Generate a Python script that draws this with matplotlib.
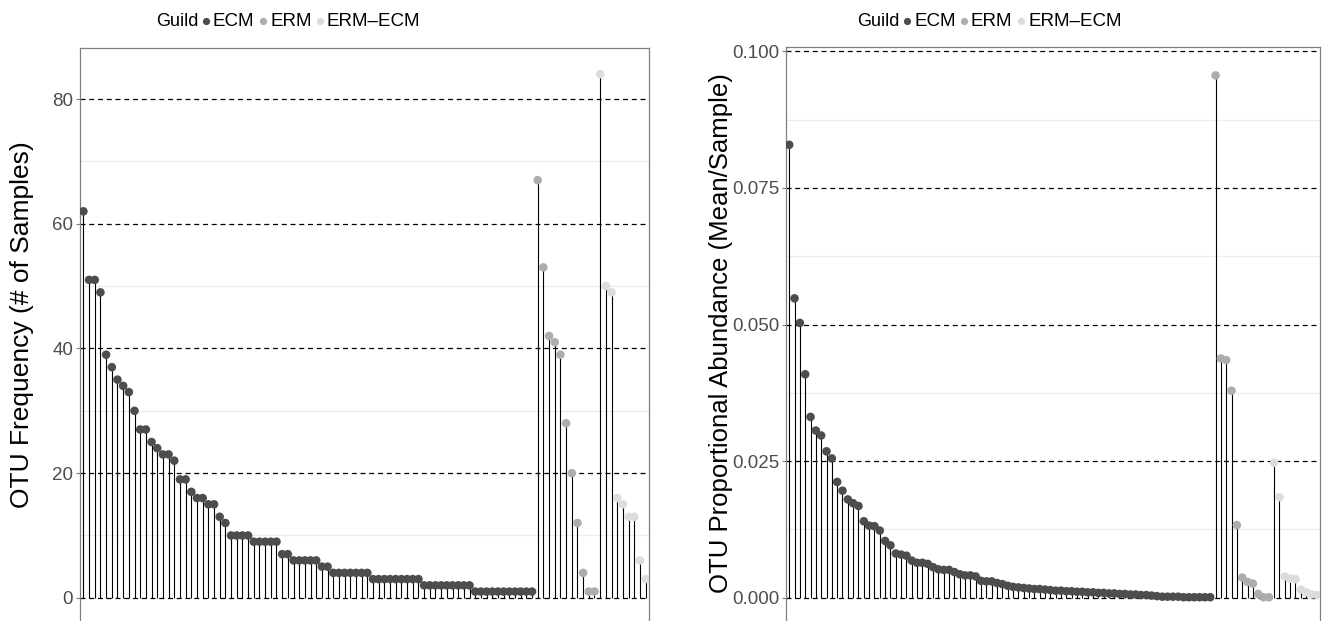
import matplotlib
matplotlib.use("Agg")
import matplotlib.pyplot as plt
from matplotlib.lines import Line2D
import numpy as np

plt.rcParams['font.family'] = ['Liberation Sans', 'DejaVu Sans']

# ---------------- data ----------------
guilds = ["ECM", "ERM", "ERM\u2013ECM"]
guild_colors = {"ECM": "#4D4D4D", "ERM": "#ADADAD", "ERM\u2013ECM": "#DCDCDC"}

# Left panel: OTU frequency (# of samples)
freq_ecm = [62, 51, 51, 49, 39, 37, 35, 34, 33, 30,
            27, 27, 25, 24, 23, 23, 22, 19, 19, 17,
            16, 16, 15, 15, 13, 12, 10, 10, 10, 10,
            9, 9, 9, 9, 9, 7, 7, 6, 6, 6,
            6, 6, 5, 5, 4, 4, 4, 4, 4, 4,
            4, 3, 3, 3, 3, 3, 3, 3, 3, 3,
            2, 2, 2, 2, 2, 2, 2, 2, 2, 1,
            1, 1, 1, 1, 1, 1, 1, 1, 1, 1]
freq_erm = [67, 53, 42, 41, 39, 28, 20, 12, 4, 1, 1]
freq_erm_ecm = [84, 50, 49, 16, 15, 13, 13, 6, 3]

# Right panel: OTU proportional abundance (mean/sample)
abund_ecm = [0.0829, 0.0548, 0.0503, 0.0409, 0.0331, 0.0306, 0.0297, 0.0268, 0.0255, 0.0212,
             0.0196, 0.0180, 0.0173, 0.0168, 0.0140, 0.0132, 0.0131, 0.0123, 0.0104, 0.0096,
             0.0081, 0.0079, 0.0077, 0.0068, 0.0064, 0.0064, 0.0062, 0.0056, 0.0052, 0.0051,
             0.0051, 0.0047, 0.0043, 0.0041, 0.0041, 0.0039, 0.0031, 0.0030, 0.0030, 0.0027,
             0.0025, 0.0022, 0.0020, 0.0019, 0.0018, 0.0017, 0.0016, 0.0016, 0.0015, 0.0014,
             0.0013, 0.0013, 0.0012, 0.0012, 0.0011, 0.0011, 0.0010, 0.0010, 0.0009, 0.0009,
             0.0008, 0.0008, 0.0007, 0.0007, 0.0006, 0.0006, 0.0005, 0.0005, 0.0004, 0.0003,
             0.0002, 0.0002, 0.0002, 0.0002, 0.0001, 0.0001, 0.0001, 0.0001, 0.0001, 0.0001]
abund_erm = [0.0956, 0.0438, 0.0435, 0.0379, 0.0133, 0.0037, 0.0029, 0.0026, 0.0007, 0.0001, 0.0001]
abund_erm_ecm = [0.0247, 0.0184, 0.0039, 0.0035, 0.0034, 0.0015, 0.0010, 0.0006, 0.0005]

freq_major = [0, 20, 40, 60, 80]
freq_minor = [10, 30, 50, 70]
abund_major = [0.000, 0.025, 0.050, 0.075, 0.100]
abund_minor = [0.0125, 0.0375, 0.0625, 0.0875]
freq_ticklabels = ["0", "20", "40", "60", "80"]
abund_ticklabels = ["0.000", "0.025", "0.050", "0.075", "0.100"]

# ---------------- figure ----------------
W, H = 1323, 621
fig = plt.figure(figsize=(W / 100, H / 100), dpi=100)


def px_axes(x0, x1, y0, y1):
    return fig.add_axes([x0 / W, 1 - y1 / H, (x1 - x0) / W, (y1 - y0) / H])


def draw_panel(ax, series, major, minor, ticklabels, ylim):
    vals = []
    cols = []
    for g, s in zip(guilds, series):
        vals += list(s)
        cols += [guild_colors[g]] * len(s)
    x = np.arange(len(vals))
    for m in minor:
        ax.axhline(m, color="#EBEBEB", lw=0.8, zorder=0)
    for m in major:
        ax.axhline(m, color="black", lw=0.9, ls=(0, (4, 3)), zorder=1)
    ax.vlines(x, 0, vals, color="black", lw=0.8, zorder=2)
    ax.scatter(x, vals, s=38, c=cols, edgecolors="none", zorder=3)
    ax.set_xlim(-0.6, len(vals) - 1 + 0.6)
    ax.set_ylim(*ylim)
    ax.set_yticks(major)
    ax.set_yticklabels(ticklabels)
    ax.set_xticks([])
    ax.tick_params(axis="y", length=3, width=0.8, color="#7F7F7F",
                   labelcolor="#4D4D4D", labelsize=13.5, pad=2)
    for sp in ax.spines.values():
        sp.set_color("#7F7F7F")
        sp.set_linewidth(0.9)


ax1 = px_axes(80, 649, 48, 624)
draw_panel(ax1, [freq_ecm, freq_erm, freq_erm_ecm], freq_major, freq_minor,
           freq_ticklabels, (-4.2, 88.2))

ax2 = px_axes(786, 1320, 47, 624)
draw_panel(ax2, [abund_ecm, abund_erm, abund_erm_ecm], abund_major, abund_minor,
           abund_ticklabels, (-0.0048, 0.1008))

fig.text(22 / W, 1 - 325 / H, "OTU Frequency (# of Samples)", rotation=90,
         ha="center", va="center", fontsize=19, color="black")
fig.text(721 / W, 1 - 333 / H, "OTU Proportional Abundance (Mean/Sample)", rotation=90,
         ha="center", va="center", fontsize=18.5, color="black")


def legend(x0):
    y = 1 - 21 / H
    fig.text((x0 - 1) / W, y, "Guild", ha="left", va="center", fontsize=13)
    offs = [(49, 56), (106, 113), (163, 170)]
    for g, (mx, tx) in zip(guilds, offs):
        fig.add_artist(Line2D([(x0 + mx) / W], [y], transform=fig.transFigure,
                              marker="o", ms=5.2, color=guild_colors[g], mec="none", ls="none"))
        fig.text((x0 + tx) / W, y, g, ha="left", va="center", fontsize=13.5)


legend(157)
legend(858)

fig.savefig("out.png", dpi=100)
